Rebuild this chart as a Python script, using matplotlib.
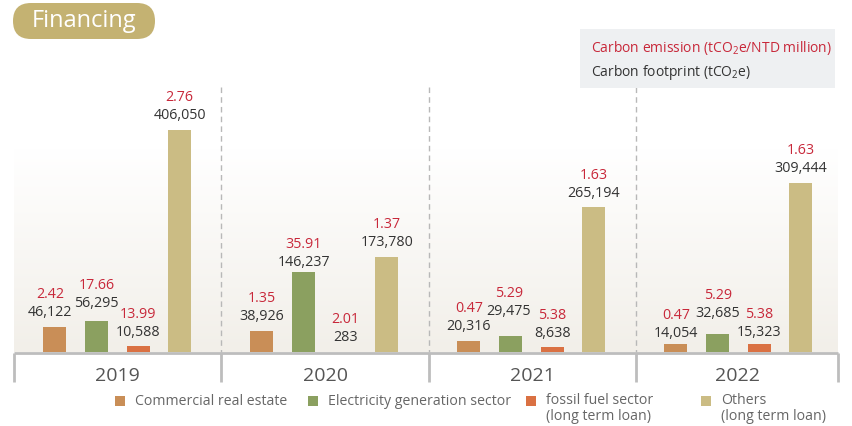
import numpy as np
import matplotlib
matplotlib.use("Agg")
import matplotlib.pyplot as plt
from matplotlib.patches import FancyBboxPatch, Rectangle

plt.rcParams["font.family"] = ["Open Sans", "DejaVu Sans"]
plt.rcParams["mathtext.fontset"] = "custom"
plt.rcParams["mathtext.rm"] = "Open Sans"

# ---- data ----
years = ["2019", "2020", "2021", "2022"]
sectors = ["Commercial real estate", "Electricity generation sector",
           "fossil fuel sector\n(long term loan)", "Others\n(long term loan)"]
footprint = {  # tCO2e
    "Commercial real estate": [46122, 38926, 20316, 14054],
    "Electricity generation sector": [56295, 146237, 29475, 32685],
    "fossil fuel sector\n(long term loan)": [10588, 283, 8638, 15323],
    "Others\n(long term loan)": [406050, 173780, 265194, 309444],
}
intensity = {  # tCO2e / NTD million
    "Commercial real estate": [2.42, 1.35, 0.47, 0.47],
    "Electricity generation sector": [17.66, 35.91, 5.29, 5.29],
    "fossil fuel sector\n(long term loan)": [13.99, 2.01, 5.38, 5.38],
    "Others\n(long term loan)": [2.76, 1.37, 1.63, 1.63],
}
colors = ["#c98e57", "#8ba060", "#da7143", "#cbbc84"]

W, H = 852, 427
fig = plt.figure(figsize=(W / 100, H / 100), dpi=100)

# overlay axes working in pixel units (y grows downward) for decorations
deco = fig.add_axes([0, 0, 1, 1], zorder=0)
deco.set_xlim(0, W)
deco.set_ylim(H, 0)
deco.axis("off")

# plot area in pixel coordinates
left, right, base, top = 14, 838, 353, 88
ax = fig.add_axes([left / W, 1 - base / H, (right - left) / W, (base - top) / H], zorder=1)
ax.patch.set_alpha(0)
group_w = 207.0
xspan = (right - left) / group_w
ax.set_xlim(0, xspan)
ymax = 406050 * (base - top) / 222.0
ax.set_ylim(0, ymax)
ax.axis("off")

# soft background gradient
grad = np.linspace(0, 1, 256).reshape(-1, 1)
c_top = np.array([1.0, 1.0, 1.0])
c_bot = np.array([0xf2, 0xef, 0xe9]) / 255.0
img = c_top[None, None, :] * (1 - grad[..., None]) + c_bot[None, None, :] * grad[..., None]
deco.imshow(img, extent=[left, right, base, 150], aspect="auto", zorder=0, origin="upper")
deco.set_xlim(0, W)
deco.set_ylim(H, 0)

offsets = [0.198, 0.40, 0.60, 0.80]
bw = 0.111
# label nudges (pixels) for crowded clusters: (sector index, year index) -> (dx, dy)
nudge = {(0, 0): (-5, 0), (1, 0): (0, 4), (1, 1): (0, -4), (1, 2): (-2, 10),
         (1, 3): (0, 7), (0, 3): (0, -3), (2, 3): (0, -3)}
for k, s in enumerate(sectors):
    xs = np.arange(len(years)) + offsets[k]
    vals = footprint[s]
    ax.bar(xs, vals, width=bw, color=colors[k], zorder=2)
    for j, (x, v, r) in enumerate(zip(xs, vals, intensity[s])):
        dx, dy = nudge.get((k, j), (0, 0))
        ax.annotate(f"{v:,}", (x, v), xytext=(dx, 15 + dy), textcoords="offset pixels",
                    ha="center", va="center", fontsize=10.3, color="#333333", zorder=3)
        ax.annotate(f"{r:.2f}", (x, v), xytext=(dx, 33 + dy), textcoords="offset pixels",
                    ha="center", va="center", fontsize=10.3, color="#c8283a", zorder=3)

# dashed separators between years
for xb in [221, 429, 636]:
    deco.plot([xb, xb], [top, base], color="#b8b8b8", lw=1, ls=(0, (4, 3)), zorder=1)

# year axis box
deco.plot([left, right], [354, 354], color="#bdbdbd", lw=2, solid_capstyle="butt")
bounds = [left, 221, 429, 636, right]
for xb in bounds:
    deco.plot([xb, xb], [354, 383], color="#bdbdbd", lw=2, solid_capstyle="butt")
for i, yr in enumerate(years):
    deco.text((bounds[i] + bounds[i + 1]) / 2, 376, yr, ha="center", va="center",
              fontsize=14, color="#555555")

# title pill
pill = FancyBboxPatch((13, 4), 142, 36, boxstyle="round,pad=0,rounding_size=18",
                      facecolor="#c4b272", edgecolor="none", zorder=2)
deco.add_patch(pill)
deco.text(84, 21, "Financing", ha="center", va="center", fontsize=17, color="white",
          zorder=3)

# metric key box
deco.add_patch(Rectangle((580, 30), 255, 59, facecolor="#eef0f2", edgecolor="none",
                         zorder=2))
deco.text(591, 48, r"Carbon emission (tCO$_\mathregular{2}$e/NTD million)",
          ha="left", va="center", fontsize=10, color="#c8283a", zorder=3)
deco.text(591, 73, r"Carbon footprint (tCO$_\mathregular{2}$e)",
          ha="left", va="center", fontsize=10, color="#333333", zorder=3)

# sector legend
leg_sq = [120, 313, 531, 706]
for k, s in enumerate(sectors):
    deco.add_patch(Rectangle((leg_sq[k] - 5, 397), 10, 10, facecolor=colors[k],
                             edgecolor="none"))
    if "\n" in s:
        deco.text(leg_sq[k] + 15, 393, s, ha="left", va="top", fontsize=10.2,
                  color="#666666", linespacing=1.05)
    else:
        deco.text(leg_sq[k] + 15, 402, s, ha="left", va="center", fontsize=10.2,
                  color="#666666")

fig.savefig("out.png", dpi=100)
